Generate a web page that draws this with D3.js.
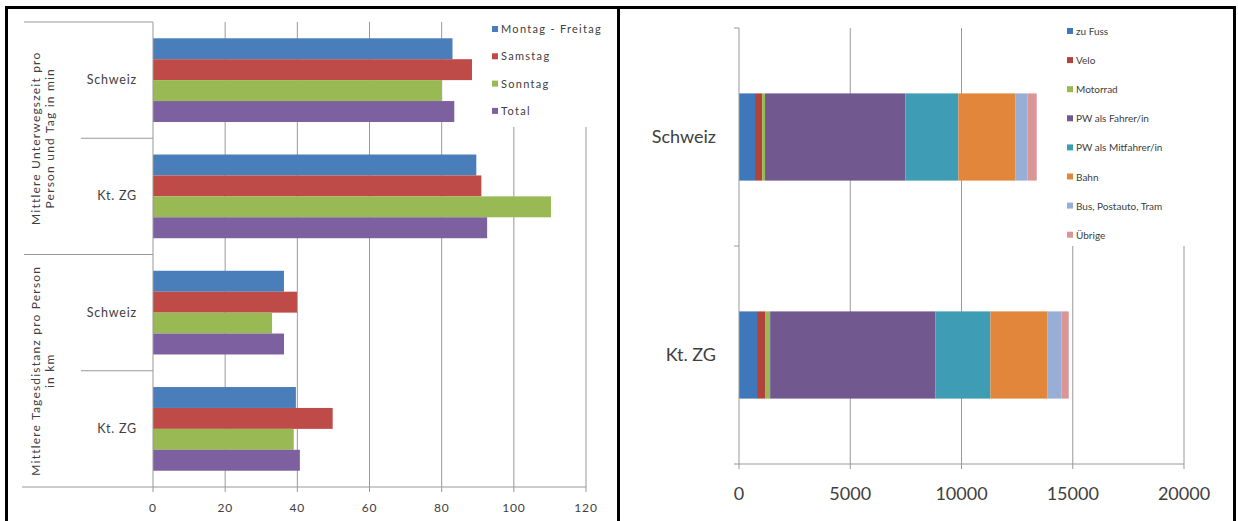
<!DOCTYPE html>
<html>
<head>
<meta charset="utf-8">
<script src="https://cdn.jsdelivr.net/npm/d3@7"></script>
<style>
  body { margin: 0; background: #fff; }
  svg text { font-family: Lato, "Open Sans", sans-serif; fill: #404040; }
</style>
</head>
<body>
<svg id="chart" width="1238" height="521"></svg>
<script>
// ---- data, left chart ----
var groups = ["Mittlere Unterwegszeit pro|Person und Tag in min", "Mittlere Tagesdistanz pro Person|in km"];
var places = ["Schweiz", "Kt. ZG"];
var dayTypes = ["Montag - Freitag", "Samstag", "Sonntag", "Total"];
var zeitSchweiz = [83, 88.4, 80, 83.5];
var zeitZG = [89.6, 91, 110.3, 92.6];
var distSchweiz = [36.3, 39.9, 33, 36.3];
var distZG = [39.6, 49.8, 39, 40.7];
var leftTicks = [0, 20, 40, 60, 80, 100, 120];
var dayColors = ["#4A7EBB", "#BE4B48", "#98B954", "#7D60A0"];

// ---- data, right chart ----
var modes = ["zu Fuss", "Velo", "Motorrad", "PW als Fahrer/in", "PW als Mitfahrer/in", "Bahn", "Bus, Postauto, Tram", "Übrige"];
var modeSchweiz = [720, 320, 130, 6310, 2380, 2570, 540, 410];
var modeZG = [810, 360, 230, 7430, 2470, 2570, 630, 320];
var rightTicks = [0, 5000, 10000, 15000, 20000];
var modeColors = ["#3F78BA", "#B0443A", "#98B954", "#71588F", "#3E9CB5", "#E2863C", "#97AED6", "#D99694"];

var svg = d3.select("#chart");
var grid = "#999";

// ================= left chart =================
(function leftChart(){
  var rows = [
    {g: 0, p: places[0], v: zeitSchweiz},
    {g: 0, p: places[1], v: zeitZG},
    {g: 1, p: places[0], v: distSchweiz},
    {g: 1, p: places[1], v: distZG}
  ];
  var x = d3.scaleLinear().domain([0, 120]).range([153, 586]);
  var y = d3.scaleBand().domain(d3.range(rows.length)).range([22, 487]);
  var bw = y.bandwidth();
  var sub = d3.scaleBand().domain(dayTypes).range([bw * 0.14, bw * 0.86]);

  var g = svg.append("g");

  // gridlines + tick marks
  g.selectAll(".grid").data(leftTicks.slice(1)).enter().append("line")
    .attr("x1", d => x(d)).attr("x2", d => x(d))
    .attr("y1", 22).attr("y2", 492)
    .attr("stroke", grid).attr("stroke-width", 1);
  g.append("line").attr("x1", x(0)).attr("x2", x(0)).attr("y1", 487).attr("y2", 492)
    .attr("stroke", grid);

  // bars
  rows.forEach(function(r, i){
    g.selectAll(null).data(r.v).enter().append("rect")
      .attr("x", x(0))
      .attr("y", (d, j) => y(i) + sub(dayTypes[j]))
      .attr("width", d => x(d) - x(0))
      .attr("height", sub.bandwidth())
      .attr("fill", (d, j) => dayColors[j]);
    g.append("text")
      .attr("x", 137).attr("y", y(i) + bw / 2 + 4)
      .attr("text-anchor", "end")
      .style("font-size", "12.5px")
      .style("letter-spacing", "0.8px")
      .text(r.p);
  });

  // category axis with multi-level separators
  g.append("line").attr("x1", x(0)).attr("x2", x(0)).attr("y1", 22).attr("y2", 487)
    .attr("stroke", grid);
  [0, 2].forEach(function(k){
    g.append("line").attr("x1", 24).attr("x2", x(0)).attr("y1", y(k)).attr("y2", y(k))
      .attr("stroke", grid);
  });
  [1, 3].forEach(function(k){
    g.append("line").attr("x1", 81).attr("x2", x(0)).attr("y1", y(k)).attr("y2", y(k))
      .attr("stroke", grid);
  });
  // x axis line
  g.append("line").attr("x1", 22).attr("x2", x(120)).attr("y1", 487).attr("y2", 487)
    .attr("stroke", grid);

  // tick labels
  g.selectAll(".tl").data(leftTicks).enter().append("text")
    .attr("x", d => x(d)).attr("y", 512)
    .attr("text-anchor", "middle")
    .style("font-size", "12px")
    .style("letter-spacing", "0.8px")
    .text(d => d);

  // group labels (rotated)
  groups.forEach(function(lbl, i){
    var cy = y(i * 2) + bw;
    var lines = lbl.split("|");
    var t = g.append("text")
      .attr("transform", "translate(42," + cy + ") rotate(-90)")
      .attr("text-anchor", "middle")
      .style("font-size", "12px")
      .style("letter-spacing", "1.2px");
    lines.forEach(function(l, k){
      t.append("tspan").attr("x", 0).attr("y", k * 14 - 2).text(l);
    });
  });

  // legend
  var lg = g.append("g");
  lg.append("rect").attr("x", 487).attr("y", 14).attr("width", 126).attr("height", 113).attr("fill", "#fff");
  dayTypes.forEach(function(d, i){
    var yy = 30 + i * 27.3;
    lg.append("rect").attr("x", 492).attr("y", yy - 4).attr("width", 6).attr("height", 6).attr("fill", dayColors[i]);
    lg.append("text").attr("x", 501).attr("y", yy + 3)
      .style("font-size", "11px").style("letter-spacing", "1.3px").text(d);
  });
}());

// ================= right chart =================
(function rightChart(){
  var x = d3.scaleLinear().domain([0, 20000]).range([739, 1184]);
  var y = d3.scaleBand().domain(places).range([28, 464]);
  var bw = y.bandwidth();
  var g = svg.append("g");

  g.selectAll(".grid").data(rightTicks.slice(1)).enter().append("line")
    .attr("x1", d => x(d)).attr("x2", d => x(d))
    .attr("y1", 28).attr("y2", 469)
    .attr("stroke", grid);

  var stackData = places.map(function(p, i){
    var vals = i === 0 ? modeSchweiz : modeZG;
    var o = {place: p};
    modes.forEach(function(m, j){ o[m] = vals[j]; });
    return o;
  });
  var series = d3.stack().keys(modes)(stackData);

  g.selectAll(".layer").data(series).enter().append("g")
    .attr("fill", (d, i) => modeColors[i])
    .selectAll("rect").data(d => d).enter().append("rect")
      .attr("x", d => x(d[0]))
      .attr("width", d => x(d[1]) - x(d[0]))
      .attr("y", d => y(d.data.place) + bw * 0.3)
      .attr("height", bw * 0.4);

  // axes
  g.append("line").attr("x1", x(0)).attr("x2", x(0)).attr("y1", 28).attr("y2", 469).attr("stroke", grid);
  g.append("line").attr("x1", 734).attr("x2", x(20000)).attr("y1", 464).attr("y2", 464).attr("stroke", grid);
  [28, 28 + bw].forEach(function(yy){
    g.append("line").attr("x1", 734).attr("x2", x(0)).attr("y1", yy).attr("y2", yy).attr("stroke", grid);
  });

  g.selectAll(".tl").data(rightTicks).enter().append("text")
    .attr("x", d => x(d)).attr("y", 500)
    .attr("text-anchor", "middle")
    .style("font-size", "18px")
    .text(d => d);

  places.forEach(function(p){
    g.append("text").attr("x", 716).attr("y", y(p) + bw / 2 + 6)
      .attr("text-anchor", "end").style("font-size", "18px").text(p);
  });

  // legend
  var lg = g.append("g");
  lg.append("rect").attr("x", 1060).attr("y", 14).attr("width", 170).attr("height", 232).attr("fill", "#fff");
  modes.forEach(function(m, i){
    var yy = 32 + i * 29.1;
    lg.append("rect").attr("x", 1067).attr("y", yy - 4).attr("width", 6).attr("height", 6).attr("fill", modeColors[i]);
    lg.append("text").attr("x", 1076).attr("y", yy + 3).style("font-size", "10px").text(m);
  });
}());

// panel borders
svg.append("path")
  .attr("d", "M6.5,521 V7.5 H1234.5 V521 M618.5,7.5 V521")
  .attr("fill", "none").attr("stroke", "#000").attr("stroke-width", 3);
</script>
</body>
</html>
